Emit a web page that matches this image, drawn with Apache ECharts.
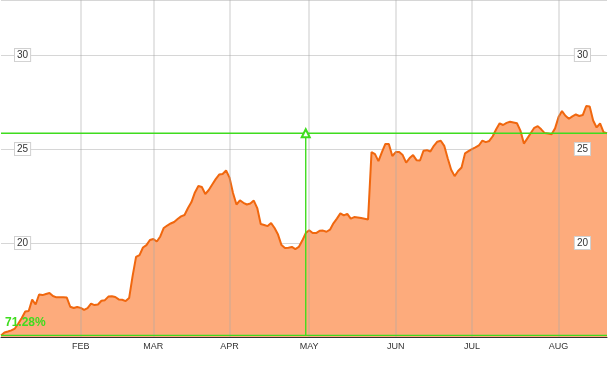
<!DOCTYPE html>
<html>
<head>
<meta charset="utf-8">
<script src="https://cdn.jsdelivr.net/npm/echarts@6/dist/echarts.min.js"></script>
<style>
html,body{margin:0;padding:0;background:#fff;}
#chart{width:613px;height:365px;}
</style>
</head>
<body>
<div id="chart"></div>
<script>
// Daily closing values (one point per trading day)
const values = [
 15.085, 15.24, 15.29, 15.35, 15.45, 15.72, 16.01, 16.36, 16.38, 16.99,
 16.73, 17.26, 17.23, 17.29, 17.34, 17.18, 17.11, 17.11, 17.11, 17.10,
 16.61, 16.54, 16.60, 16.55, 16.44, 16.54, 16.78, 16.70, 16.73, 16.93,
 16.96, 17.15, 17.17, 17.13, 17.00, 16.98, 16.91, 17.07, 18.24, 19.26,
 19.36, 19.76, 19.89, 20.16, 20.21, 20.08, 20.35, 20.80, 20.93, 21.04,
 21.12, 21.28, 21.42, 21.49, 21.86, 22.18, 22.69, 23.03, 22.98, 22.61,
 22.82, 23.11, 23.40, 23.64, 23.67, 23.86, 23.48, 22.66, 22.05, 22.27,
 22.14, 22.05, 22.10, 22.26, 21.86, 21.01, 20.96, 20.90, 21.06, 20.80,
 20.45, 19.89, 19.73, 19.75, 19.79, 19.68, 19.79, 20.13, 20.53, 20.68,
 20.53, 20.53, 20.65, 20.66, 20.60, 20.71, 21.05, 21.30, 21.58, 21.47,
 21.55, 21.30, 21.38, 21.36, 21.33, 21.29, 21.25, 24.84, 24.73, 24.36,
 24.84, 25.27, 25.27, 24.63, 24.84, 24.84, 24.68, 24.28, 24.52, 24.68,
 24.41, 24.39, 24.91, 24.94, 24.87, 25.17, 25.39, 25.44, 25.17, 24.51,
 23.90, 23.56, 23.83, 24.02, 24.77, 24.89, 25.00, 25.09, 25.19, 25.45,
 25.37, 25.43, 25.68, 26.05, 26.37, 26.28, 26.39, 26.45, 26.41, 26.37,
 25.98, 25.29, 25.57, 25.85, 26.13, 26.22, 26.05, 25.85, 25.83, 25.79,
 26.10, 26.70, 27.02, 26.77, 26.61, 26.74, 26.84, 26.76, 26.81, 27.29,
 27.27, 26.52, 26.15, 26.36, 25.90, 25.838
];
const categories = values.map((v, i) => 'd' + i);
const monthLabels = ['FEB', 'MAR', 'APR', 'MAY', 'JUN', 'JUL', 'AUG'];
const monthStartIndex = [23, 44, 66, 89, 114, 136, 161];
const yMin = 15;
const yMax = 32.93;
const yInterval = 5;
const cursorIndex = 88;

const first = values[0];
const last = values[values.length - 1];
const lastIdx = values.length - 1;
const pctText = ((last / first - 1) * 100).toFixed(2) + '%';
const GREEN = '#3fdc1e';
const FONT = '"Liberation Sans", Arial, sans-serif';

const isMonth = (idx) => monthStartIndex.indexOf(idx) >= 0;

function guide(points, z, symbol) {
  return {
    type: 'line',
    data: points,
    z: z,
    silent: true,
    showSymbol: !!symbol,
    showAllSymbol: true,
    symbol: symbol || 'none',
    symbolSize: 8,
    color: GREEN,
    lineStyle: {color: GREEN, width: 1.4},
    itemStyle: {color: GREEN, borderColor: GREEN, borderWidth: 1.4},
    emphasis: {disabled: true},
    tooltip: {show: false}
  };
}

const chart = echarts.init(document.getElementById('chart'), null, {renderer: 'canvas'});
chart.setOption({
  animation: false,
  backgroundColor: '#fff',
  grid: {left: 1, right: 6, top: 0, bottom: 28, containLabel: false},
  xAxis: {
    type: 'category',
    data: categories,
    boundaryGap: false,
    z: 3,
    axisLine: {lineStyle: {color: '#333', width: 1}},
    axisTick: {show: false},
    axisLabel: {
      interval: (idx) => isMonth(idx),
      formatter: (val, idx) => {
        const k = monthStartIndex.indexOf(idx);
        return k >= 0 ? monthLabels[k] : '';
      },
      fontSize: 9, color: '#333', margin: 5, fontFamily: FONT
    },
    splitLine: {
      show: true,
      interval: (idx) => isMonth(idx),
      lineStyle: {color: 'rgba(170,170,170,0.3)', width: 2}
    }
  },
  yAxis: [
    {
      type: 'value', position: 'left',
      min: yMin, max: yMax, interval: yInterval,
      axisLine: {show: false}, axisTick: {show: false},
      splitLine: {show: true, lineStyle: {color: '#d6d6d6', width: 1}},
      axisLabel: {
        inside: true, margin: 14, showMinLabel: false, showMaxLabel: false,
        fontSize: 10, color: '#333', fontFamily: FONT,
        backgroundColor: '#fff', borderColor: '#d0d0d0', borderWidth: 1, padding: [1, 2, 1, 2]
      }
    },
    {
      type: 'value', position: 'right', z: 4,
      min: yMin, max: yMax, interval: yInterval,
      axisLine: {show: false}, axisTick: {show: false},
      splitLine: {show: false},
      axisLabel: {
        inside: true, margin: 17, showMinLabel: false, showMaxLabel: false,
        fontSize: 10, color: '#333', fontFamily: FONT,
        backgroundColor: '#fff', borderColor: '#d0d0d0', borderWidth: 1, padding: [1, 2, 1, 2]
      }
    }
  ],
  series: [
    {
      type: 'line',
      data: values,
      showSymbol: false,
      symbol: 'none',
      z: 2,
      silent: true,
      lineStyle: {color: '#f0670e', width: 2},
      areaStyle: {color: '#fdab7c', opacity: 1}
    },
    guide([[0, last], [lastIdx, last]], 5),
    guide([[0, first], [lastIdx, first]], 5),
    guide([
      {value: [cursorIndex, first], symbol: 'none'},
      {value: [cursorIndex, last]}
    ], 6, 'emptyTriangle')
  ],
  graphic: [{
    type: 'text', left: 5, top: 317, z: 10,
    style: {text: pctText, fill: GREEN, font: 'bold 12px ' + FONT}
  }]
});
</script>
</body>
</html>
